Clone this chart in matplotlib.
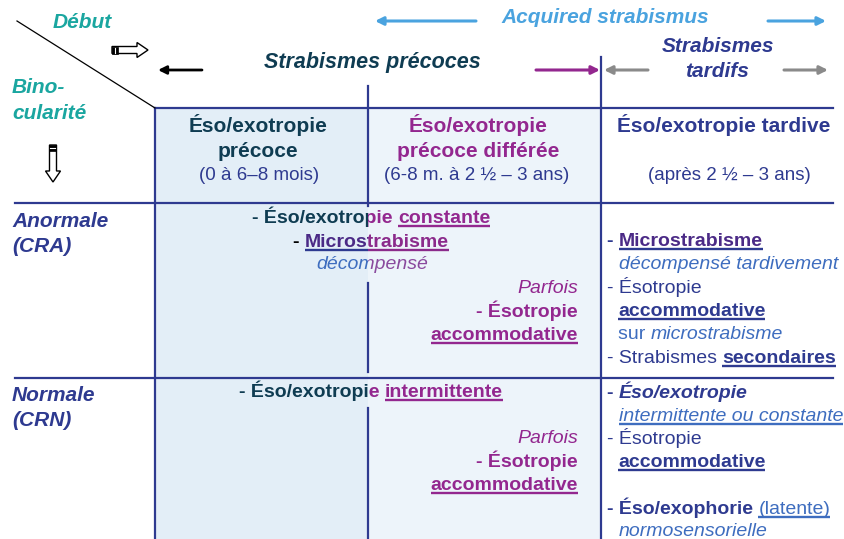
import matplotlib
matplotlib.use('Agg')
import matplotlib.pyplot as plt
from matplotlib.patches import Rectangle, Polygon

plt.rcParams['font.family'] = ['Liberation Sans', 'DejaVu Sans']

# ---------------- text content ----------------
onset_label = "Début"
binocularity_label = ["Bino-", "cularité"]
acquired_label = "Acquired strabismus"
early_group_label = "Strabismes précoces"
late_group_label = ["Strabismes", "tardifs"]
column_titles = [["Éso/exotropie", "précoce"],
                 ["Éso/exotropie", "précoce différée"],
                 ["Éso/exotropie tardive"]]
column_ages = ["(0 à 6–8 mois)", "(6-8 m. à 2 ½ – 3 ans)", "(après 2 ½ – 3 ans)"]
row_labels = [["Anormale", "(CRA)"], ["Normale", "(CRN)"]]
early_cra = ["- Éso/exotropie ", "constante", "- ", "Microstrabisme", "décompensé"]
early_crn = ["- Éso/exotropie ", "intermittente"]
sometimes_block = ["Parfois", "- Ésotropie", "accommodative"]
late_cra = ["- ", "Microstrabisme", "décompensé tardivement", "- Ésotropie",
            "accommodative", "sur ", "microstrabisme", "- Strabismes ", "secondaires"]
late_crn = ["- ", "Éso/exotropie", "intermittente ou constante", "- Ésotropie",
            "accommodative", "- Éso/exophorie", " ", "(latente)", "normosensorielle"]

# ---------------- colours ----------------
DKBLUE = '#2e3a90'
TEAL = '#1aa6a0'
DKTEAL = '#0f3c52'
MAGENTA = '#93278f'
LTBLUE = '#4aa3df'
MEDBLUE = '#3e6dbf'
PURPLE = '#4b2a86'
GREY = '#8a8a8a'

W, H = 845, 539
fig = plt.figure(figsize=(W / 100, H / 100), dpi=100)
ax = fig.add_axes([0, 0, 1, 1])
ax.set_xlim(0, W)
ax.set_ylim(H, 0)
ax.axis('off')
fig.canvas.draw()
R = fig.canvas.get_renderer()

BODY = 14
HEAD = 15


def tw(s, size, w, st):
    if not s:
        return 0.0
    t = ax.text(0, 0, '|' + s + '|', fontsize=size, fontweight=w, fontstyle=st)
    w1 = t.get_window_extent(R).width
    t.set_text('||')
    w0 = t.get_window_extent(R).width
    t.remove()
    return w1 - w0


def seg(t, c, w='normal', s='normal', ul=None):
    return dict(t=t, c=c, w=w, s=s, ul=ul)


def rich(x, y, segs, ha='left', size=BODY, clip=None):
    ws = [tw(g['t'], size, g['w'], g['s']) for g in segs]
    tot = sum(ws)
    x0 = {'left': x, 'center': x - tot / 2, 'right': x - tot}[ha]
    for g, wd in zip(segs, ws):
        t = ax.text(x0, y, g['t'], color=g['c'], fontsize=size, fontweight=g['w'],
                    fontstyle=g['s'], ha='left', va='baseline', clip_on=clip is not None,
                    zorder=5)
        if clip is not None:
            t.set_clip_path(clip)
        if g['ul']:
            txt = g['t']
            lead = len(txt) - len(txt.lstrip())
            lx = tw(txt[:lead], size, g['w'], g['s'])
            uw = tw(txt.strip(), size, g['w'], g['s'])
            ln, = ax.plot([x0 + lx, x0 + lx + uw], [y + 3.2, y + 3.2], color=g['ul'],
                          lw=1.7, solid_capstyle='butt', zorder=5)
            if clip is not None:
                ln.set_clip_path(clip)
        x0 += wd


# ---------------- cell fills ----------------
ax.add_patch(Rectangle((155, 108), 213, H - 108, fc='#e3eef7', ec='none', zorder=0))
ax.add_patch(Rectangle((368, 108), 233, H - 108, fc='#edf4fa', ec='none', zorder=0))

# ---------------- grid lines ----------------
LW = 1.6
ax.plot([155, 833], [108, 108], color=DKBLUE, lw=LW, zorder=2)
ax.plot([15, 833], [203, 203], color=DKBLUE, lw=LW, zorder=2)
ax.plot([15, 833], [378, 378], color=DKBLUE, lw=LW, zorder=2)
ax.plot([155, 155], [108, H], color=DKBLUE, lw=LW, zorder=2)
ax.plot([601, 601], [57, H], color=DKBLUE, lw=LW, zorder=2)
for a, b in [(86, 206), (283, 372), (408, H)]:
    ax.plot([368, 368], [a, b], color=DKBLUE, lw=LW, zorder=2)
ax.plot([17, 155], [21, 108], color='black', lw=0.9, zorder=2)

# ---------------- arrows ----------------
def arrow(tail, head, color, lw=2.2, ms=12):
    ax.annotate('', xy=head, xytext=tail,
                arrowprops=dict(arrowstyle='-|>', color=color, lw=lw,
                                mutation_scale=ms, shrinkA=0, shrinkB=0))

arrow((476, 21), (375, 21), LTBLUE)
arrow((768, 21), (826, 21), LTBLUE)
arrow((202, 70), (158, 70), 'black', lw=2.0)
arrow((536, 70), (600, 70), MAGENTA)
arrow((648, 70), (604, 70), GREY)
arrow((784, 70), (828, 70), GREY)

# hollow arrows
ax.add_patch(Polygon([(112, 46.5), (137, 46.5), (137, 42.5), (148, 50), (137, 57.5),
                      (137, 53.5), (112, 53.5)], closed=True, fc='white', ec='black',
                     lw=1.0, zorder=3))
ax.add_patch(Rectangle((112, 46.5), 6, 7, fc='black', ec='black', lw=0.5, zorder=4))
ax.plot([115, 115], [47.5, 52.5], color='white', lw=0.8, zorder=4)
ax.add_patch(Polygon([(49.5, 145), (49.5, 171), (45.5, 171), (53, 182), (60.5, 171),
                      (56.5, 171), (56.5, 145)], closed=True, fc='white', ec='black',
                     lw=1.0, zorder=3))
ax.add_patch(Rectangle((49.5, 145), 7, 6, fc='black', ec='black', lw=0.5, zorder=4))
ax.plot([50.5, 55.5], [148, 148], color='white', lw=0.8, zorder=4)

# ---------------- top labels ----------------
def lab(x, y, s, c, size=HEAD, ha='center', w='bold', st='italic'):
    ax.text(x, y, s, color=c, fontsize=size, fontweight=w, fontstyle=st,
            ha=ha, va='baseline', zorder=5)

lab(82, 28, onset_label, TEAL)
lab(12, 93, binocularity_label[0], TEAL, ha='left')
lab(12, 119, binocularity_label[1], TEAL, ha='left')
lab(605, 23, acquired_label, LTBLUE)
lab(372, 68, early_group_label, DKTEAL, size=15.5)
lab(718, 52, late_group_label[0], DKBLUE)
lab(717, 77, late_group_label[1], DKBLUE)

# ---------------- header cells ----------------
lab(258, 132, column_titles[0][0], DKTEAL, st='normal')
lab(258, 157, column_titles[0][1], DKTEAL, st='normal')
lab(259, 180, column_ages[0], DKBLUE, size=13.5, w='normal', st='normal')
lab(478, 132, column_titles[1][0], MAGENTA, st='normal')
lab(478, 157, column_titles[1][1], MAGENTA, st='normal')
lab(477, 180, column_ages[1], DKBLUE, size=13.5, w='normal', st='normal')
lab(724, 132, column_titles[2][0], DKBLUE, st='normal')
lab(729, 180, column_ages[2], DKBLUE, size=13.5, w='normal', st='normal')

# ---------------- row labels ----------------
lab(12, 227, row_labels[0][0], DKBLUE, ha='left')
lab(12, 252, row_labels[0][1], DKBLUE, ha='left')
lab(12, 401, row_labels[1][0], DKBLUE, ha='left')
lab(12, 426, row_labels[1][1], DKBLUE, ha='left')

# ---------------- early columns (text changes colour at column boundary) ----------------
clipL = Rectangle((0, 0), 368, H, transform=ax.transData)
clipR = Rectangle((368, 0), W - 368, H, transform=ax.transData)

for clip, c1, c2d, c2, u2, c3 in [(clipL, DKTEAL, 'black', PURPLE, DKBLUE, MEDBLUE),
                                  (clipR, MAGENTA, 'black', '#8b2a8b', '#8b2a8b', '#8a4a9e')]:
    rich(371, 223, [seg(early_cra[0], c1, 'bold'),
                    seg(early_cra[1], MAGENTA if clip is clipR else c1, 'bold',
                        ul=MAGENTA if clip is clipR else c1)],
         ha='center', clip=clip)
    rich(371, 247, [seg(early_cra[2], c2d, 'bold'),
                    seg(early_cra[3], c2, 'bold', ul=u2)], ha='center', clip=clip)
    rich(372, 269, [seg(early_cra[4], c3, 'normal', 'italic')], ha='center', clip=clip)
    rich(371, 397, [seg(early_crn[0], c1, 'bold'),
                    seg(early_crn[1], MAGENTA if clip is clipR else c1, 'bold',
                        ul=MAGENTA if clip is clipR else c1)],
         ha='center', clip=clip)

for y0 in (293, 443):
    rich(578, y0, [seg(sometimes_block[0], MAGENTA, 'normal', 'italic')], ha='right')
    rich(578, y0 + 24, [seg(sometimes_block[1], MAGENTA, 'bold')], ha='right')
    rich(578, y0 + 47, [seg(sometimes_block[2], MAGENTA, 'bold', ul=MAGENTA)], ha='right')

# ---------------- late column ----------------
rich(607, 246, [seg(late_cra[0], DKBLUE, 'bold'), seg(late_cra[1], PURPLE, 'bold', ul=DKBLUE)])
rich(619, 269, [seg(late_cra[2], MEDBLUE, 'normal', 'italic')])
rich(607, 293, [seg(late_cra[3], DKBLUE)])
rich(618, 316, [seg(late_cra[4], DKBLUE, 'bold', ul=DKBLUE)])
rich(618, 339, [seg(late_cra[5], MEDBLUE), seg(late_cra[6], MEDBLUE, 'normal', 'italic')])
rich(607, 363, [seg(late_cra[7], DKBLUE), seg(late_cra[8], DKBLUE, 'bold', ul=DKBLUE)])

rich(607, 398, [seg(late_crn[0], DKBLUE, 'bold'), seg(late_crn[1], DKBLUE, 'bold', 'italic')])
rich(619, 421, [seg(late_crn[2], MEDBLUE, 'normal', 'italic', ul=MEDBLUE)])
rich(607, 444, [seg(late_crn[3], DKBLUE)])
rich(618, 467, [seg(late_crn[4], DKBLUE, 'bold', ul=DKBLUE)])
rich(607, 514, [seg(late_crn[5], DKBLUE, 'bold'), seg(late_crn[6], DKBLUE),
                seg(late_crn[7], MEDBLUE, ul=MEDBLUE)])
rich(619, 536, [seg(late_crn[8], MEDBLUE, 'normal', 'italic')])

fig.savefig('out.png', dpi=100)
